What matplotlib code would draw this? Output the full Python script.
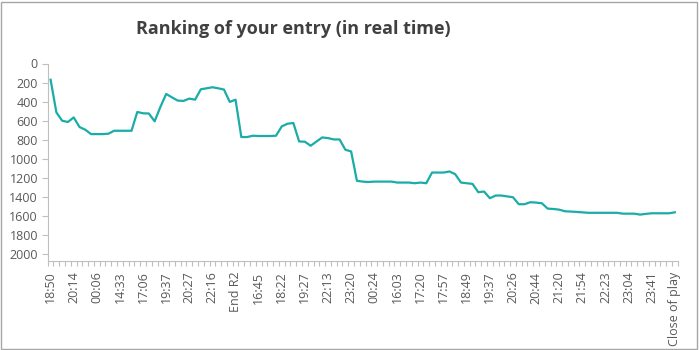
import matplotlib

matplotlib.use("Agg")

import matplotlib.pyplot as plt
from matplotlib.patches import Rectangle

# rank after each update, one value per update (109 updates)
ranks = [
    170, 512, 600, 613, 565, 666, 694, 740, 740, 740,
    736, 705, 705, 705, 705, 508, 522, 524, 606, 455,
    319, 355, 389, 392, 368, 379, 270, 260, 249, 260,
    273, 403, 379, 771, 771, 757, 760, 760, 760, 757,
    659, 631, 624, 817, 820, 862, 818, 775, 782, 796,
    796, 904, 922, 1230, 1238, 1242, 1238, 1238, 1238, 1238,
    1248, 1248, 1248, 1255, 1248, 1255, 1143, 1143, 1143, 1132,
    1160, 1248, 1255, 1262, 1349, 1342, 1412, 1384, 1384, 1393,
    1402, 1475, 1475, 1454, 1458, 1465, 1521, 1525, 1532, 1549,
    1552, 1556, 1560, 1565, 1565, 1565, 1565, 1565, 1565, 1574,
    1574, 1574, 1584, 1576, 1570, 1570, 1570, 1570, 1560,
]

# every fourth update gets a label
tick_labels = [
    "18:50", "20:14", "00:06", "14:33", "17:06", "19:37", "20:27",
    "22:16", "End R2", "16:45", "18:22", "19:27", "22:13", "23:20",
    "00:24", "16:03", "17:20", "17:57", "18:49", "19:37", "20:26",
    "20:44", "21:20", "21:54", "22:23", "23:04", "23:41", "Close of play",
]
label_step = 4

W, H = 699, 350
LINE_COLOR = "#1aaca8"
AXIS_COLOR = "#bfbfbf"
TEXT_COLOR = "#595959"

plt.rcParams["font.family"] = ["Open Sans", "DejaVu Sans"]

fig = plt.figure(figsize=(W / 100, H / 100), dpi=100)
fig.patches.append(
    Rectangle((0.8 / W, 0.8 / H), (W - 2.6) / W, (H - 2.6) / H,
              transform=fig.transFigure, fill=False, edgecolor="#a6a6a6", linewidth=1.0)
)

ax_left, ax_right, ax_top, ax_bottom = 47.7, 677.7, 63.5, 260.5
ax = fig.add_axes([ax_left / W, (H - ax_bottom) / H, (ax_right - ax_left) / W, (ax_bottom - ax_top) / H])

x = list(range(len(ranks)))
ax.plot(x, ranks, color=LINE_COLOR, linewidth=1.6, solid_joinstyle="round")

ax.set_xlim(-0.5, len(ranks) - 0.5)
ax.set_ylim(2065, 0)
ax.set_yticks(range(0, 2001, 200))

ax.set_xticks(range(0, len(ranks), label_step))
ax.set_xticklabels(tick_labels, rotation=90, fontsize=9, color=TEXT_COLOR)
ax.set_xticks([i - 0.5 for i in range(len(ranks) + 1)], minor=True)
ax.tick_params(axis="x", which="major", length=0, pad=8)
ax.tick_params(axis="x", which="minor", length=3.5, color=AXIS_COLOR, width=0.8)
ax.tick_params(axis="y", length=4, color=AXIS_COLOR, width=0.8, labelsize=9, labelcolor=TEXT_COLOR, pad=3)

for side in ("top", "right"):
    ax.spines[side].set_visible(False)
for side in ("left", "bottom"):
    ax.spines[side].set_color(AXIS_COLOR)
    ax.spines[side].set_linewidth(0.8)

fig.text(293 / W, 1 - 29 / H, "Ranking of your entry (in real time)", ha="center", va="center",
         fontsize=13, fontweight="bold", color="#404040")

fig.savefig("out.png", dpi=100)
